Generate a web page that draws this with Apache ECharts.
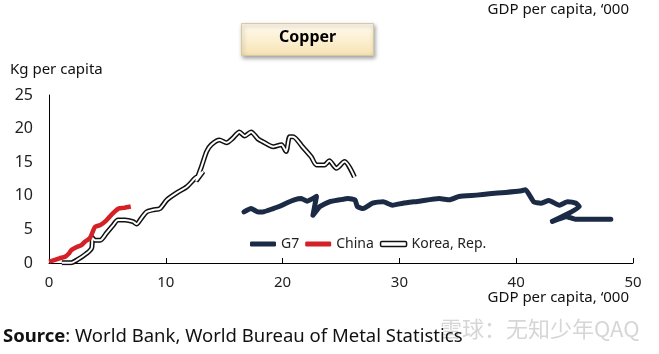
<!DOCTYPE html>
<html><head><meta charset="utf-8">
<script src="https://cdn.jsdelivr.net/npm/echarts@6/dist/echarts.min.js"></script>
<style>html,body{margin:0;padding:0;background:#fff}#c{width:659px;height:354px}</style>
</head><body><div id="c"></div>
<script>
const xTicks = [0, 10, 20, 30, 40, 50];
const yTicks = [0, 5, 10, 15, 20, 25];
const seriesNames = ['G7', 'China', 'Korea, Rep.'];
// [GDP per capita '000, kg per capita]
const g7 = [[16.7,7.6],[17.3,8.1],[17.9,7.6],[18.3,7.6],[19.2,8.1],[19.7,8.4],[20.3,8.9],[21.0,9.4],[21.6,9.6],[22.1,9.2],[22.9,9.9],[22.6,7.1],[23.2,8.4],[24.0,9.1],[24.9,9.4],[25.6,9.6],[26.2,9.4],[26.4,8.4],[26.9,8.1],[27.7,8.9],[28.6,9.1],[29.4,8.6],[30.3,8.9],[31.7,9.2],[33.4,9.6],[34.3,9.4],[35.1,9.9],[36.6,10.1],[37.7,10.3],[39.1,10.5],[40.3,10.7],[40.8,10.9],[41.5,9.1],[42.1,8.9],[42.8,9.3],[43.7,8.6],[44.4,9.1],[45.1,8.9],[45.4,8.4],[43.1,6.2],[44.3,6.9],[45.1,6.5],[48.1,6.5]];
const china = [[0.0,0.2],[0.5,0.45],[0.9,0.7],[1.4,0.95],[1.7,1.4],[1.9,1.9],[2.4,2.4],[2.8,2.7],[3.1,3.2],[3.5,3.7],[3.8,4.9],[3.95,5.4],[4.4,5.65],[4.8,6.15],[5.2,6.9],[5.6,7.6],[5.95,8.1],[6.4,8.2],[7.0,8.4]];
const korea = [[1.1,0.05],[1.9,0.05],[2.4,0.45],[3.2,1.4],[3.65,2.2],[3.7,3.4],[3.65,3.9],[3.95,3.4],[4.4,3.4],[4.9,4.4],[5.5,5.65],[5.9,6.4],[6.5,6.4],[7.2,6.15],[7.5,5.8],[7.9,6.65],[8.35,7.6],[8.9,7.9],[9.5,8.1],[10.1,9.4],[10.9,10.4],[11.8,11.35],[12.5,12.6],[13.2,13.6],[12.6,12.2],[13.05,14.3],[13.5,16.6],[13.9,17.6],[14.6,18.3],[15.2,17.9],[15.75,18.6],[16.3,19.5],[16.75,18.9],[17.3,19.5],[17.9,18.45],[18.3,18.05],[19.2,17.3],[19.9,17.6],[20.3,16.6],[20.6,18.8],[20.9,18.8],[21.7,17.3],[22.45,15.8],[22.9,14.6],[23.6,14.6],[24.0,15.2],[24.6,14.1],[25.3,15.1],[26.15,12.8]];

const FONT = 'Noto Sans';
const chart = echarts.init(document.getElementById('c'), null, {renderer: 'canvas'});
chart.setOption({
  animation: false,
  backgroundColor: '#fff',
  textStyle: {fontFamily: FONT},
  grid: {left: 49, right: 26, top: 95, bottom: 91},
  xAxis: {
    type: 'value', min: xTicks[0], max: xTicks[xTicks.length - 1], interval: 10,
    splitLine: {show: false},
    axisLine: {lineStyle: {color: '#000', width: 1}},
    axisTick: {show: true, inside: true, length: 5, lineStyle: {color: '#000'}},
    axisLabel: {color: '#222', fontSize: 15, margin: 12, fontFamily: FONT}
  },
  yAxis: {
    type: 'value', min: yTicks[0], max: yTicks[yTicks.length - 1], interval: 5,
    splitLine: {show: false},
    axisLine: {show: true, lineStyle: {color: '#000', width: 1}},
    axisTick: {show: false},
    axisLabel: {color: '#222', fontSize: 16, margin: 16, fontFamily: FONT}
  },
  legend: {
    left: 245, top: 232, itemWidth: 26, itemHeight: 5, itemGap: 6,
    textStyle: {fontSize: 14, color: '#222', fontFamily: FONT},
    data: [
      {name: seriesNames[0], icon: 'roundRect'},
      {name: seriesNames[1], icon: 'roundRect'},
      {name: seriesNames[2], icon: 'roundRect', itemStyle: {color: '#fff', borderColor: '#111', borderWidth: 1.5}}
    ]
  },
  series: [
    {name: seriesNames[2], type: 'line', data: korea, showSymbol: false, smooth: 0.25,
     lineStyle: {color: '#111', width: 5}, itemStyle: {color: '#111'}, z: 2},
    {name: seriesNames[2], type: 'line', data: korea, showSymbol: false, smooth: 0.25,
     lineStyle: {color: '#fff', width: 2}, itemStyle: {color: '#fff'}, z: 3},
    {name: seriesNames[1], type: 'line', data: china, showSymbol: false, smooth: 0.25,
     lineStyle: {color: '#d42127', width: 4.5}, itemStyle: {color: '#d42127'}, z: 4},
    {name: seriesNames[0], type: 'line', data: g7, showSymbol: false, smooth: 0.15,
     lineStyle: {color: '#1b2a45', width: 5, cap: 'round', join: 'round'}, itemStyle: {color: '#1b2a45'}, z: 5}
  ],
  graphic: [
    {type: 'rect', left: 241, top: 23, z: 10,
     shape: {width: 132, height: 32},
     style: {fill: new echarts.graphic.LinearGradient(0, 0, 0, 1, [{offset: 0, color: '#fffaf0'}, {offset: 0.5, color: '#fcf0d2'}, {offset: 1, color: '#f6e3b4'}]),
             stroke: '#d8c8a0', lineWidth: 1, shadowBlur: 4, shadowOffsetX: 1, shadowOffsetY: 2, shadowColor: 'rgba(0,0,0,0.35)'}},
    {type: 'text', left: 279, top: 29, z: 11,
     style: {text: 'Copper', font: 'bold 16px "Noto Sans"', fill: '#000'}},
    {type: 'text', right: 30, top: 2, style: {text: 'GDP per capita, \u2018000', font: '15px "Noto Sans"', fill: '#111'}},
    {type: 'text', left: 10, top: 62, style: {text: 'Kg per capita', font: '15px "Noto Sans"', fill: '#111'}},
    {type: 'text', right: 30, top: 290, style: {text: 'GDP per capita, \u2018000', font: '15px "Noto Sans"', fill: '#111'}},
    {type: 'text', left: 440, top: 318, style: {text: '雪球：无知少年QAQ', font: '22px "Noto Sans CJK SC"', fill: '#d6d6d6'}},
    {type: 'text', left: 3, top: 327,
     style: {text: '{b|Source}: World Bank, World Bureau of Metal Statistics', font: '18.5px "Noto Sans"', fill: '#111',
             rich: {b: {fontWeight: 'bold', fontSize: 18.5, fontFamily: FONT, fill: '#111'}}}}
  ]
});
</script></body></html>
